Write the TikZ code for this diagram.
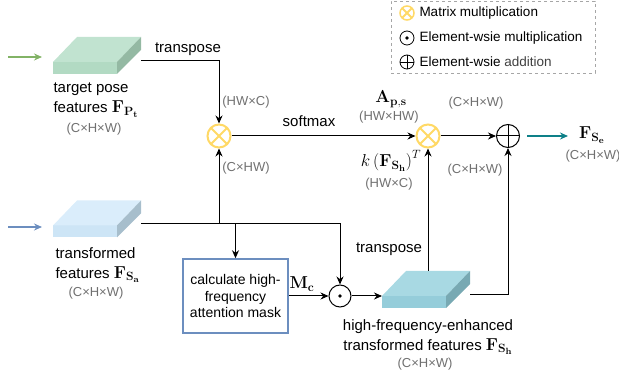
\documentclass[tikz,border=0pt]{standalone}
\usepackage[no-math]{fontspec}
\setmainfont{Liberation Sans}
\usetikzlibrary{arrows.meta,calc}

\definecolor{mmyellow}{HTML}{FFD966}
\definecolor{dimgrey}{HTML}{707070}
\definecolor{greenarrow}{HTML}{82B366}
\definecolor{bluearrow}{HTML}{6C8EBF}
\definecolor{tealarrow}{HTML}{0E8088}
\definecolor{tgttop}{HTML}{C1E3D0}
\definecolor{tgtfront}{HTML}{B2DAC3}
\definecolor{tgtside}{HTML}{94B9A3}
\definecolor{srctop}{HTML}{DAEDFB}
\definecolor{srcfront}{HTML}{CDE5F6}
\definecolor{srcside}{HTML}{A7BECC}
\definecolor{hftop}{HTML}{A8D9E3}
\definecolor{hffront}{HTML}{95CDDA}
\definecolor{hfside}{HTML}{78A9B3}

% math symbols are set a bit larger than the text
\newcommand{\featmath}[1]{{\fontsize{18}{20}\selectfont$#1$}}

\begin{document}
\begin{tikzpicture}[%
    x=1pt, y=-1pt,                          % pixel-like grid, y grows downwards
    >={Stealth[length=8pt,width=7pt]},
    line width=1pt,
    ]
% -------------------------------------------------
% Styles
\tikzset{
  txt/.style={font=\fontsize{15}{20}\selectfont, inner sep=0pt},
  dim/.style={font=\fontsize{13}{15}\selectfont, text=dimgrey, inner sep=0pt},
  leg/.style={font=\fontsize{13.5}{16}\selectfont, inner sep=0pt, anchor=west},
  % flat feature block: top, front and side faces
  slab/.style n args={3}{minimum width=88pt, minimum height=37pt,
    inner sep=0pt, outer sep=0pt,
    path picture={
      \coordinate (sw) at (path picture bounding box.south west);
      \fill[#2] (sw) rectangle ++(64pt,12pt);
      \fill[#1] ($(sw)+(0pt,12pt)$) -- ++(64pt,0pt) -- ++(24pt,25pt)
                -- ++(-64pt,0pt) -- cycle;
      \fill[#3] ($(sw)+(64pt,12pt)$) -- ++(24pt,25pt) -- ++(0pt,-13pt)
                -- ($(sw)+(64pt,0pt)$) -- cycle;}},
  mmul/.style={circle, draw=mmyellow, line width=2pt, minimum size=23pt,
    inner sep=0pt, path picture={
      \draw[mmyellow, line width=2pt]
        (path picture bounding box.north west) -- (path picture bounding box.south east)
        (path picture bounding box.north east) -- (path picture bounding box.south west);}},
  ewadd/.style={circle, draw, minimum size=23pt, inner sep=0pt, path picture={
      \draw (path picture bounding box.north) -- (path picture bounding box.south)
            (path picture bounding box.west) -- (path picture bounding box.east);}},
  ewmul/.style={circle, draw, minimum size=22pt, inner sep=0pt, path picture={
      \fill (path picture bounding box.center) circle (1.8pt);}},
  maskbox/.style={draw=bluearrow, line width=1.5pt, minimum width=105pt,
    minimum height=74pt, align=center, inner sep=2pt,
    font=\fontsize{14}{16.7}\selectfont},
  inarrow/.style={->, line width=1.8pt, shorten >=11pt},
}
\useasboundingbox (0,0) rectangle (619,379);
% -------------------------------------------------
% Legend
\node[draw=gray!70, dashed, line width=0.8pt, minimum width=204pt,
      minimum height=72pt] (legend) at (493,37) {};
\node[mmul, minimum size=14pt, line width=1.5pt] (legmm) at (407,13) {};
\node[ewmul, minimum size=14pt, line width=0.8pt] (legmul) at (407,38) {};
\node[ewadd, minimum size=14pt, line width=0.8pt] (legadd) at (407,62) {};
\node[leg] (legmmtxt) at (419,13) {Matrix multiplication};
\node[leg] (legmultxt) at (419,38) {Element-wsie multiplication};
\node[leg] (legaddtxt) at (419,62) {Element-wsie \textcolor{black!75}{addition}};
% -------------------------------------------------
% Feature blocks
\node[slab={tgttop}{tgtfront}{tgtside}] (tgt) at (97,55.5) {};
\node[slab={srctop}{srcfront}{srcside}] (src) at (97,219) {};
\node[slab={hftop}{hffront}{hfside}] (hf) at (426,289.5) {};

\node[txt, align=left, anchor=west] (tgtlbl) at (53,100)
  {target pose\\features \featmath{\mathbf{F}_{\mathbf{P_t}}}};
\node[dim] (tgtdim) at (94,129) {(C×H×W)};
\node[txt, align=left, anchor=west] (srclbl) at (55,265)
  {transformed\\features \featmath{\mathbf{F}_{\mathbf{S_a}}}};
\node[dim] (srcdim) at (96,293) {(C×H×W)};
\node[txt, align=center] (hflbl) at (428,337)
  {high-frequency-enhanced\\transformed features \featmath{\mathbf{F}_{\mathbf{S_h}}}};
\node[dim] (hfdim) at (425,364) {(C×H×W)};

% Operators
\node[mmul] (mmA) at (219,136) {};
\node[mmul] (mmB) at (428,136) {};
\node[ewadd] (add) at (508,136) {};
\node[ewmul] (dot) at (340,296) {};
\node[maskbox] (mask) at (235.5,296) {calculate high-\\frequency\\attention mask};

% Input / output arrows
\coordinate (tgtin) at (8,57);
\coordinate (srcin) at (8,227);
\coordinate (outtip) at (568,136);
\draw[inarrow, greenarrow] (tgtin) -- (tgtin -| tgt.west);
\draw[inarrow, bluearrow] (srcin) -- (srcin -| src.west);
\draw[->, tealarrow, line width=2pt, shorten <=7pt] (add.east) -- (outtip);
\node[txt] (outlbl) at (592,135) {\featmath{\mathbf{F}_{\mathbf{S_e}}}};
\node[dim] (outdim) at (593,156) {(C×H×W)};

% Connectors
\coordinate (tgtout) at ([yshift=-5.5pt]tgt.east);
\coordinate (srcout) at ([yshift=-5pt]src.east);
\coordinate (hfout) at ([yshift=-5.5pt]hf.east);
\draw[->] (tgtout) -| (mmA);
\draw[->] (srcout) -| (dot);
\draw[->] (srcout -| mmA) -- (mmA);
\draw[->] (srcout -| mask.north) -- (mask.north);
\draw[->] (mask) -- (dot);
\draw[->] (dot) -- (dot -| hf.west);
\draw[->] (mmA) -- (mmB);
\draw[->] (mmB) -- (add);
\draw[->] (hf.north -| mmB) -- (mmB);
\draw[->] (hfout) -| (add);

% Connector labels
\node[txt] (trA) at (188,49) {transpose};
\node[dim] (dimA) at (246,102) {(HW×C)};
\node[dim] (dimB) at (246,168) {(C×HW)};
\node[txt] (smax) at (309,121) {softmax};
\node[txt] (aps) at (391,99) {\featmath{\mathbf{A}_{\mathbf{p,s}}}};
\node[dim] (dimC) at (389,117) {(HW×HW)};
\node[dim] (dimD) at (476,103) {(C×H×W)};
\node[txt] (kfs) at (391,161) {\featmath{k\left(\mathbf{F}_{\mathbf{S_h}}\right)^T}};
\node[dim] (dimE) at (389,184) {(HW×C)};
\node[dim] (dimF) at (475,170) {(C×H×W)};
\node[txt] (trB) at (389,249) {transpose};
\node[txt] (mc) at (302,284) {\featmath{\mathbf{M_c}}};
% -------------------------------------------------
\end{tikzpicture}
\end{document}
